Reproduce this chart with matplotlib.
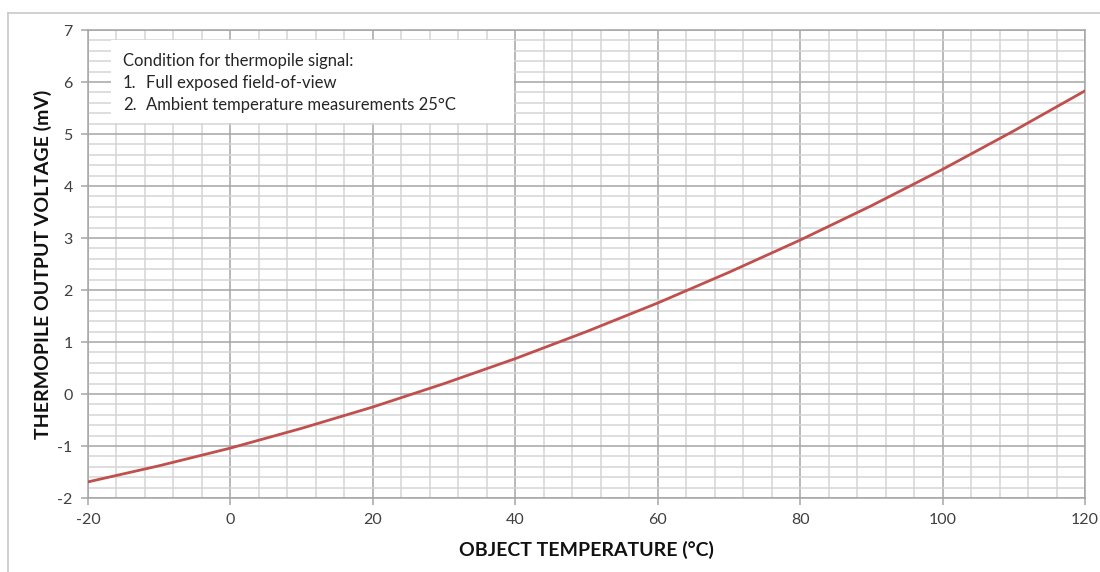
#!/usr/bin/env python3

import matplotlib
matplotlib.use("Agg")
import matplotlib.pyplot as plt
from matplotlib.lines import Line2D
from matplotlib.patches import Rectangle
from matplotlib.ticker import MultipleLocator

# object temperature (deg C) vs thermopile output (mV)
temperature = [-20, -10, 0, 10, 20, 30, 40, 50, 60, 70, 80, 90, 100, 110, 120]
voltage = [-1.69, -1.38, -1.04, -0.66, -0.25, 0.20, 0.68, 1.20, 1.75,
           2.34, 2.96, 3.62, 4.32, 5.06, 5.83]

note_lines = [
    ("", "Condition for thermopile signal:"),
    ("1.", "Full exposed field-of-view"),
    ("2.", "Ambient temperature measurements 25°C"),
]

plt.rcParams["font.family"] = ["Lato", "DejaVu Sans"]
plt.rcParams["axes.unicode_minus"] = False


def main():
    fig = plt.figure(figsize=(11, 5.72), dpi=100)
    ax = fig.add_axes([88 / 1100, 1 - 498 / 572, (1085 - 88) / 1100, (498 - 30) / 572])

    ax.set_xlim(-20, 120)
    ax.set_ylim(-2, 7)
    ax.xaxis.set_major_locator(MultipleLocator(20))
    ax.xaxis.set_minor_locator(MultipleLocator(4))
    ax.yaxis.set_major_locator(MultipleLocator(1))
    ax.yaxis.set_minor_locator(MultipleLocator(0.2))

    ax.grid(which="minor", color="#d4d4d4", linewidth=1.1, zorder=0)
    ax.grid(which="major", color="#a6a6a6", linewidth=1.1, zorder=0)
    ax.set_axisbelow(True)

    for side in ["left", "bottom", "top", "right"]:
        ax.spines[side].set_color("#a6a6a6")
        ax.spines[side].set_linewidth(1.1)

    ax.tick_params(which="major", length=5, width=1.1, color="#a6a6a6",
                   labelsize=11.5, labelcolor="#404040", pad=6)
    ax.tick_params(which="minor", length=0)

    ax.plot(temperature, voltage, color="#c0504d", linewidth=2.0, zorder=3)

    # note box
    ax.add_patch(Rectangle((-16.8, 5.22), 56.6, 1.58, facecolor="white",
                           edgecolor="none", zorder=2))
    line_y = [6.40, 5.98, 5.55]
    for (num, txt), y in zip(note_lines, line_y):
        if num:
            ax.text(-15.1, y, num, fontsize=12, color="#262626", va="center", zorder=4)
            ax.text(-11.9, y, txt, fontsize=12, color="#262626", va="center", zorder=4)
        else:
            ax.text(-15.1, y, txt, fontsize=12, color="#262626", va="center", zorder=4)

    ax.set_xlabel("OBJECT TEMPERATURE (°C)", fontsize=14, fontweight="bold",
                  color="#111111", labelpad=10)
    ax.set_ylabel("THERMOPILE OUTPUT VOLTAGE (mV)", fontsize=14, fontweight="bold",
                  color="#111111", labelpad=4)

    # light outer frame of the original chart area
    fig.add_artist(Line2D([8 / 1100, 8 / 1100], [0, 1 - 13 / 572],
                          color="#c8c8c8", linewidth=1.2))
    fig.add_artist(Line2D([8 / 1100, 1], [1 - 13 / 572, 1 - 13 / 572],
                          color="#c8c8c8", linewidth=1.2))

    fig.savefig("out.png", dpi=100, facecolor="white")


if __name__ == "__main__":
    main()
